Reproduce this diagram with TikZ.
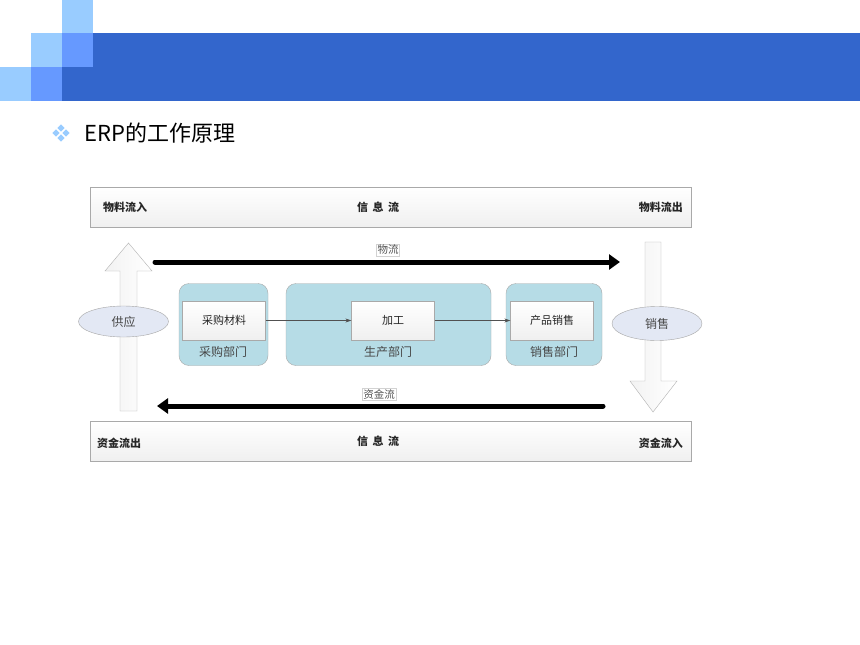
\documentclass[tikz,border=0pt]{standalone}
\usepackage{fontspec}
\setmainfont{Noto Sans CJK SC}
\usetikzlibrary{arrows.meta,shapes.geometric}
\definecolor{band}{HTML}{3366CC}
\definecolor{sqlight}{HTML}{99CCFF}
\definecolor{sqmid}{HTML}{6699FF}
\definecolor{dept}{HTML}{B6DCE6}
\definecolor{ell}{HTML}{E3E8F4}
\definecolor{edge}{HTML}{A9A9A9}
\definecolor{txt}{HTML}{262626}
\tikzset{
  infobox/.style={rectangle, draw=edge, top color=white, bottom color=gray!12, minimum width=601pt, minimum height=40pt, inner sep=0pt},
  infotext/.style={font=\fontsize{11}{13}\selectfont\bfseries, text=txt, inner sep=0pt},
  deptbox/.style={rectangle, rounded corners=10pt, draw=edge, fill=dept, inner sep=0pt},
  taskbox/.style={rectangle, draw=edge, top color=white, bottom color=gray!12, minimum height=39pt, inner sep=0pt, font=\fontsize{11}{13}\selectfont, text=txt},
  deptlabel/.style={font=\fontsize{12}{14}\selectfont, text=txt!85, inner sep=0pt},
  oval/.style={ellipse, draw=gray!70, fill=ell, inner sep=0pt, font=\fontsize{12}{14}\selectfont, text=txt!85},
  flowlabel/.style={draw=gray!35, fill=white, inner sep=1pt, font=\fontsize{10.5}{12}\selectfont, text=txt!80},
  bigarrow/.style={draw=gray!60, left color=gray!10, right color=white, line join=miter},
  thick flow/.style={line width=5pt, line cap=round, -{Triangle[length=11pt,width=15pt]}},
  thin flow/.style={draw=txt!80, line width=0.6pt, -{Stealth[length=6pt,width=4pt]}},
}
\begin{document}
\begin{tikzpicture}[x=1pt,y=-1pt]
\useasboundingbox (0,0) rectangle (860,645);
\fill[white] (0,0) rectangle (860,645);
% header
\fill[band] (93,33) rectangle (860,101);
\fill[band] (62,67) rectangle (93,101);
\fill[sqlight] (62,0) rectangle (93,33);
\fill[sqlight] (31,33) rectangle (62,67);
\fill[sqlight] (0,67) rectangle (31,101);
\fill[sqmid] (62,33) rectangle (93,67);
\fill[sqmid] (31,67) rectangle (62,101);
% bullet
\foreach \dx/\dy in {0/-5,-5/0,5/0,0/5}
  \fill[sqlight] (61+\dx,133+\dy) +(0,-3.6) -- +(3.6,0) -- +(0,3.6) -- +(-3.6,0) -- cycle;
\node[anchor=west, inner sep=0pt, font=\fontsize{22}{26}\selectfont, text=black] (title) at (84,133) {ERP的工作原理};
% information boxes
\node[infobox] (topbox) at (390.5,207) {};
\node[infotext, anchor=west] (inL) at (103,207) {物料流入};
\node[infotext] (infoT) at (378,207) {信\hspace{4.5pt}息\hspace{4.5pt}流};
\node[infotext, anchor=east] (outR) at (683,207) {物料流出};
\node[infobox] (botbox) at (390.5,441) {};
\node[infotext, anchor=west] (outL) at (97,443) {资金流出};
\node[infotext] (infoB) at (378,441) {信\hspace{4.5pt}息\hspace{4.5pt}流};
\node[infotext, anchor=east] (inR) at (683,443) {资金流入};
% big hollow arrows
\path[bigarrow] (120,411) -- (120,271) -- (105,271) -- (128.5,243) -- (152,271) -- (137,271) -- (137,411) -- cycle;
\path[bigarrow] (645,242) -- (661,242) -- (661,381) -- (677,381) -- (653,412) -- (630,381) -- (645,381) -- cycle;
% ellipses
\node[oval, minimum width=90pt, minimum height=31pt] (supply) at (123.5,321.5) {供应};
\node[oval, minimum width=90pt, minimum height=34pt] (sales) at (657,323.5) {销售};
% departments
\node[deptbox, minimum width=89pt, minimum height=82pt] (d1) at (223.5,324.5) {};
\node[deptbox, minimum width=205pt, minimum height=82pt] (d2) at (388.5,324.5) {};
\node[deptbox, minimum width=96pt, minimum height=82pt] (d3) at (554,324.5) {};
\node[taskbox, minimum width=83pt] (t1) at (224,320.5) {采购材料};
\node[taskbox, minimum width=83pt] (t2) at (393,320.5) {加工};
\node[taskbox, minimum width=83pt] (t3) at (552,320.5) {产品销售};
\node[deptlabel] (l1) at (223,352) {采购部门};
\node[deptlabel] (l2) at (388,352) {生产部门};
\node[deptlabel] (l3) at (554,352) {销售部门};
\draw[thin flow] (t1) -- (t2);
\draw[thin flow] (t2) -- (t3);
% thick flows
\coordinate (wA) at (155,262);
\coordinate (wB) at (620,262);
\draw[thick flow] (wA) -- (wB);
\node[flowlabel] (wl) at (388,250) {物流};
\coordinate (mA) at (603,406);
\coordinate (mB) at (157,406);
\draw[thick flow] (mA) -- (mB);
\node[flowlabel] (ml) at (379,394) {资金流};
\end{tikzpicture}
\end{document}
